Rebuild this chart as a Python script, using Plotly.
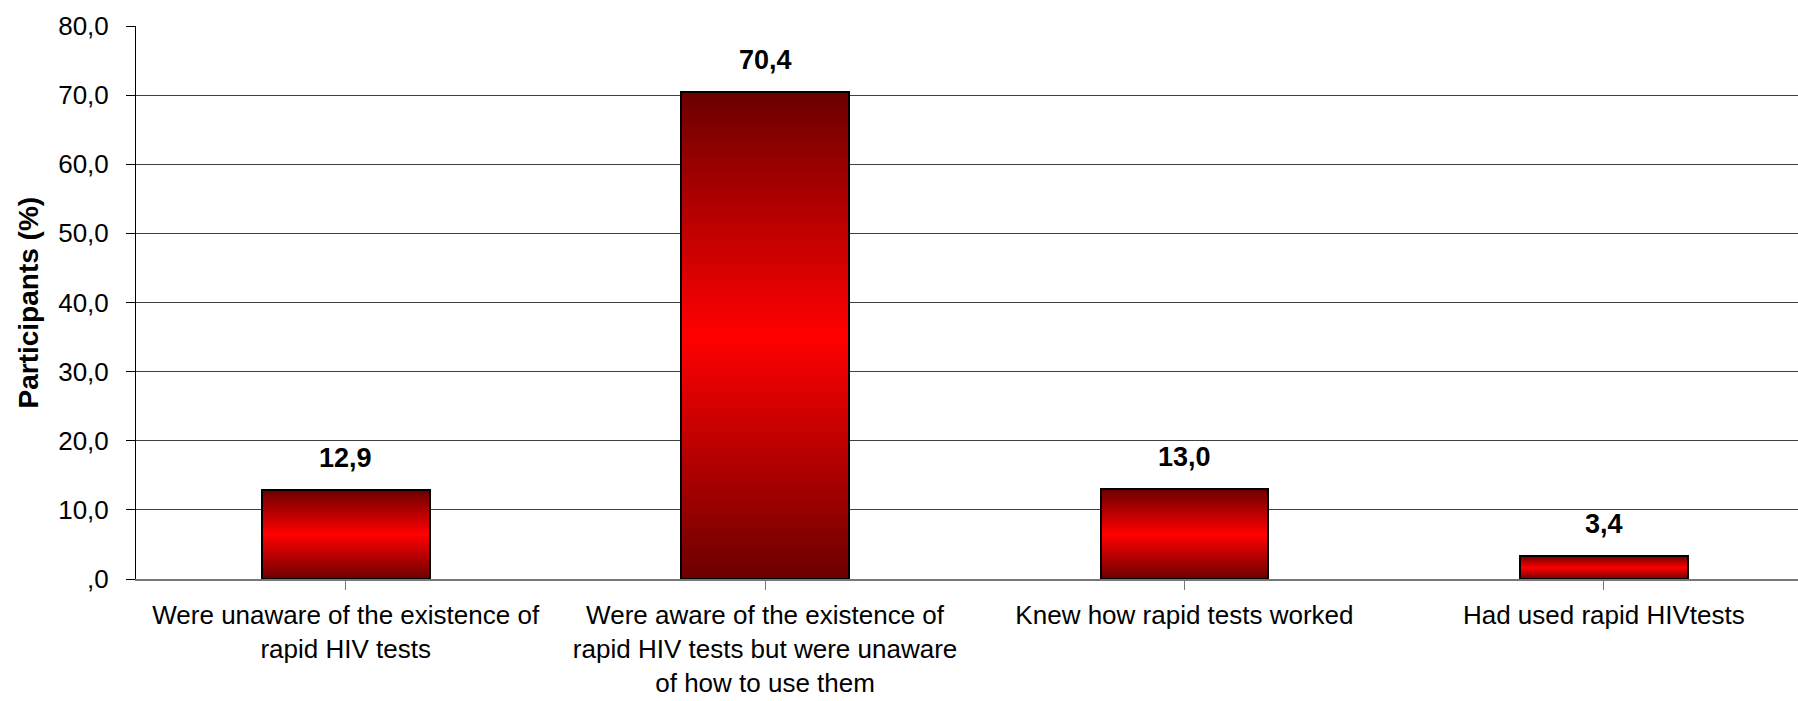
import numpy as np
import plotly.graph_objects as go

# --- data -------------------------------------------------------------
categories = [
    "Were unaware of the existence of<br>rapid HIV tests",
    "Were aware of the existence of<br>rapid HIV tests but were unaware<br>of how to use them",
    "Knew how rapid tests worked",
    "Had used rapid HIVtests",
]
participants_pct = [12.9, 70.4, 13.0, 3.4]
value_labels = ["12,9", "70,4", "13,0", "3,4"]
y_tick_values = [0, 10, 20, 30, 40, 50, 60, 70, 80]
y_tick_labels = [",0", "10,0", "20,0", "30,0", "40,0", "50,0", "60,0", "70,0", "80,0"]

# --- style ------------------------------------------------------------
FONT = "Liberation Sans, Arial, sans-serif"
DARK = np.array([0x6c, 0x00, 0x00])
BRIGHT = np.array([0xff, 0x00, 0x00])
N_SLICES = 60
BAR_WIDTH = 0.4


def shade(t):
    """Colour for relative height t in [0, 1]: dark at both ends, bright in the middle."""
    w = 1 - abs(2 * t - 1)
    c = DARK + (BRIGHT - DARK) * w
    return "rgb({:.0f},{:.0f},{:.0f})".format(*c)


x_idx = np.arange(len(categories))
vals = np.array(participants_pct)

fig = go.Figure()

# vertical gradient fill: each bar is split into thin overlapping slices
for k in range(N_SLICES):
    lo = k / N_SLICES
    hi = min((k + 1.6) / N_SLICES, 1.0)
    fig.add_trace(go.Bar(
        x=x_idx,
        y=vals * (hi - lo),
        base=vals * lo,
        width=BAR_WIDTH,
        marker=dict(color=shade((k + 0.5) / N_SLICES), line=dict(width=0)),
        showlegend=False,
        hoverinfo="skip",
    ))

# bar outlines
fig.add_trace(go.Bar(
    x=x_idx,
    y=vals,
    width=BAR_WIDTH,
    marker=dict(color="rgba(0,0,0,0)", line=dict(color="black", width=2)),
    showlegend=False,
    hovertemplate="%{y}<extra></extra>",
))

# value labels above bars
for i, (v, lab) in enumerate(zip(participants_pct, value_labels)):
    fig.add_annotation(
        x=i, y=v, text="<b>" + lab + "</b>",
        showarrow=False, yanchor="bottom", yshift=15,
        font=dict(family=FONT, size=27, color="black"),
    )

# y-axis title
fig.add_annotation(
    xref="paper", yref="paper", x=0, y=0.5, xshift=-108,
    text="<b>Participants (%)</b>", textangle=-90, showarrow=False,
    xanchor="center", yanchor="middle",
    font=dict(family=FONT, size=28, color="black"),
)

fig.update_layout(
    width=1798,
    height=701,
    margin=dict(l=136, r=0, t=26, b=122),
    paper_bgcolor="white",
    plot_bgcolor="rgba(0,0,0,0)",
    barmode="overlay",
    bargap=0,
    font=dict(family=FONT, color="black"),
    xaxis=dict(
        automargin=False,
        range=[-0.5, 3.463],
        tickmode="array",
        tickvals=list(x_idx),
        ticktext=categories,
        tickson="boundaries",
        ticks="outside",
        ticklen=9,
        tickcolor="#777777",
        tickwidth=1,
        showgrid=False,
        showline=True,
        linecolor="#777777",
        linewidth=2,
        zeroline=False,
        tickfont=dict(family=FONT, size=26, color="black"),
        ticklabelstandoff=3,
    ),
    yaxis=dict(
        automargin=False,
        range=[0, 80],
        tickmode="array",
        tickvals=y_tick_values,
        ticktext=y_tick_labels,
        ticks="outside",
        ticklen=9,
        tickcolor="black",
        showline=True,
        linecolor="black",
        linewidth=1,
        showgrid=True,
        gridcolor="#404040",
        gridwidth=1,
        zeroline=False,
        tickfont=dict(family=FONT, size=26, color="black"),
        ticklabelstandoff=12,
    ),
)

fig.write_html("out.html")
